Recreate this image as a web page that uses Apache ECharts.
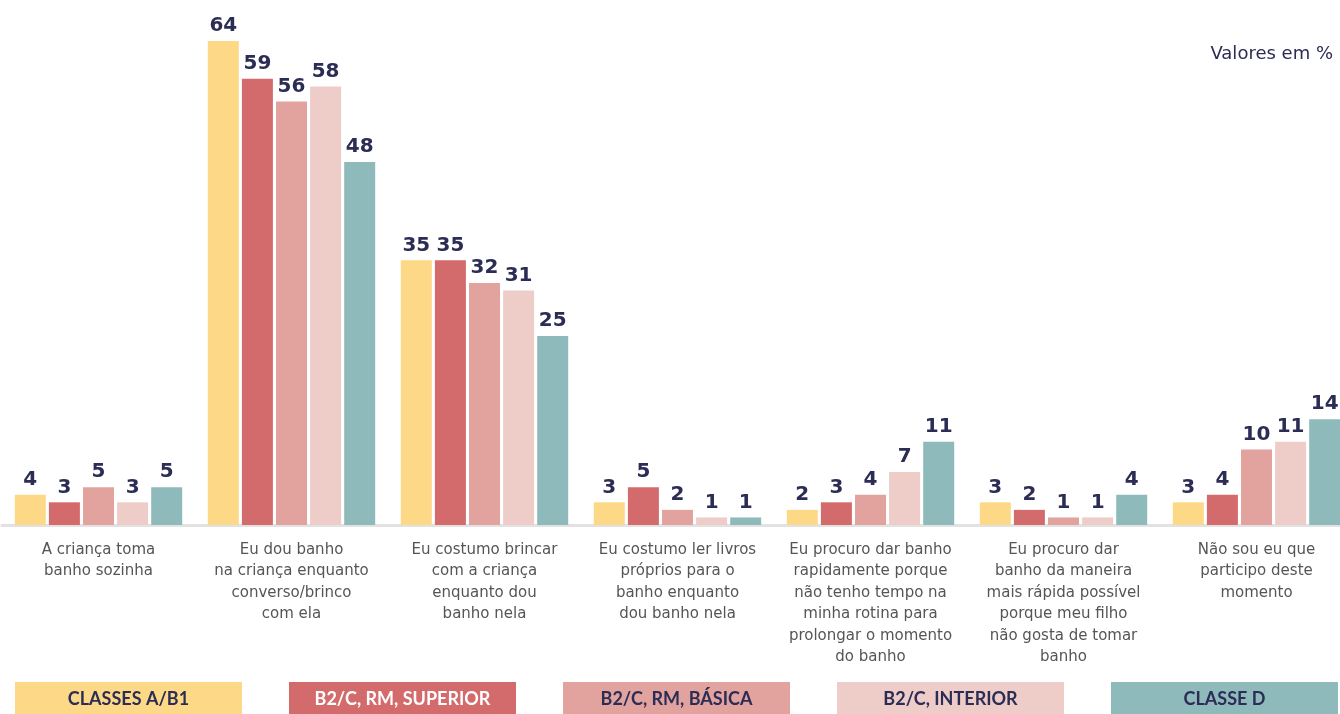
<!DOCTYPE html>
<html>
<head>
<meta charset="utf-8">
<script src="https://cdn.jsdelivr.net/npm/echarts@6/dist/echarts.min.js"></script>
<style>
  html, body { margin: 0; padding: 0; background: #fff; }
  #chart { width: 1340px; height: 714px; }
</style>
</head>
<body>
<div id="chart"></div>
<script>
const categories = [
  'A criança toma\nbanho sozinha',
  'Eu dou banho\nna criança enquanto\nconverso/brinco\ncom ela',
  'Eu costumo brincar\ncom a criança\nenquanto dou\nbanho nela',
  'Eu costumo ler livros\npróprios para o\nbanho enquanto\ndou banho nela',
  'Eu procuro dar banho\nrapidamente porque\nnão tenho tempo na\nminha rotina para\nprolongar o momento\ndo banho',
  'Eu procuro dar\nbanho da maneira\nmais rápida possível\nporque meu filho\nnão gosta de tomar\nbanho',
  'Não sou eu que\nparticipo deste\nmomento'
];
const seriesNames = ['CLASSES A/B1', 'B2/C, RM, SUPERIOR', 'B2/C, RM, BÁSICA', 'B2/C, INTERIOR', 'CLASSE D'];
const classeAB1 = [4, 64, 35, 3, 2, 3, 3];
const rmSuperior = [3, 59, 35, 5, 3, 2, 4];
const rmBasica = [5, 56, 32, 2, 4, 1, 10];
const interior = [3, 58, 31, 1, 7, 1, 11];
const classeD = [5, 48, 25, 1, 11, 4, 14];
const seriesValues = [classeAB1, rmSuperior, rmBasica, interior, classeD];

const colors = ['#fdd987', '#d36b6d', '#e2a39f', '#eeccc8', '#8fbabb'];
const legendTextColors = ['#2b2d55', '#ffffff', '#2b2d55', '#2b2d55', '#2b2d55'];
const navy = '#2b2d55';
const font = '"DejaVu Sans", sans-serif';
const legendFont = 'Lato, sans-serif';

const chart = echarts.init(document.getElementById('chart'));

// legend boxes with the name written inside
const legendBoxes = [];
seriesNames.forEach((n, i) => {
  legendBoxes.push({
    type: 'group',
    left: 15 + i * 274,
    top: 682,
    children: [
      { type: 'rect', shape: { x: 0, y: 0, width: 227, height: 32 }, style: { fill: colors[i] } },
      {
        type: 'text',
        x: 113.5,
        y: 17,
        style: {
          text: n,
          fill: legendTextColors[i],
          font: 'bold 18px ' + legendFont,
          textAlign: 'center',
          textVerticalAlign: 'middle'
        }
      }
    ]
  });
});

const option = {
  animation: false,
  color: colors,
  title: {
    text: 'Valores em %',
    right: 2,
    top: 40,
    textStyle: { color: navy, fontSize: 18, fontWeight: 'normal', fontFamily: font }
  },
  graphic: legendBoxes,
  grid: { left: 2, width: 1351, top: 41, bottom: 189, outerBoundsMode: 'none', containLabel: false },
  xAxis: {
    type: 'category',
    data: categories,
    axisLine: { lineStyle: { color: '#e2e2e2', width: 3 } },
    axisTick: { show: false },
    axisLabel: {
      interval: 0,
      margin: 14,
      color: '#555555',
      fontSize: 15,
      lineHeight: 21.5,
      fontFamily: font
    }
  },
  yAxis: {
    type: 'value',
    min: 0,
    max: 64,
    show: false,
    splitLine: { show: false }
  },
  series: seriesValues.map((vals, i) => ({
    name: seriesNames[i],
    type: 'bar',
    data: vals,
    barWidth: 31,
    barGap: '10%',
    label: {
      show: true,
      position: 'top',
      distance: 5,
      color: navy,
      fontSize: 20,
      fontWeight: 'bold',
      fontFamily: font
    }
  }))
};

chart.setOption(option);
</script>
</body>
</html>
